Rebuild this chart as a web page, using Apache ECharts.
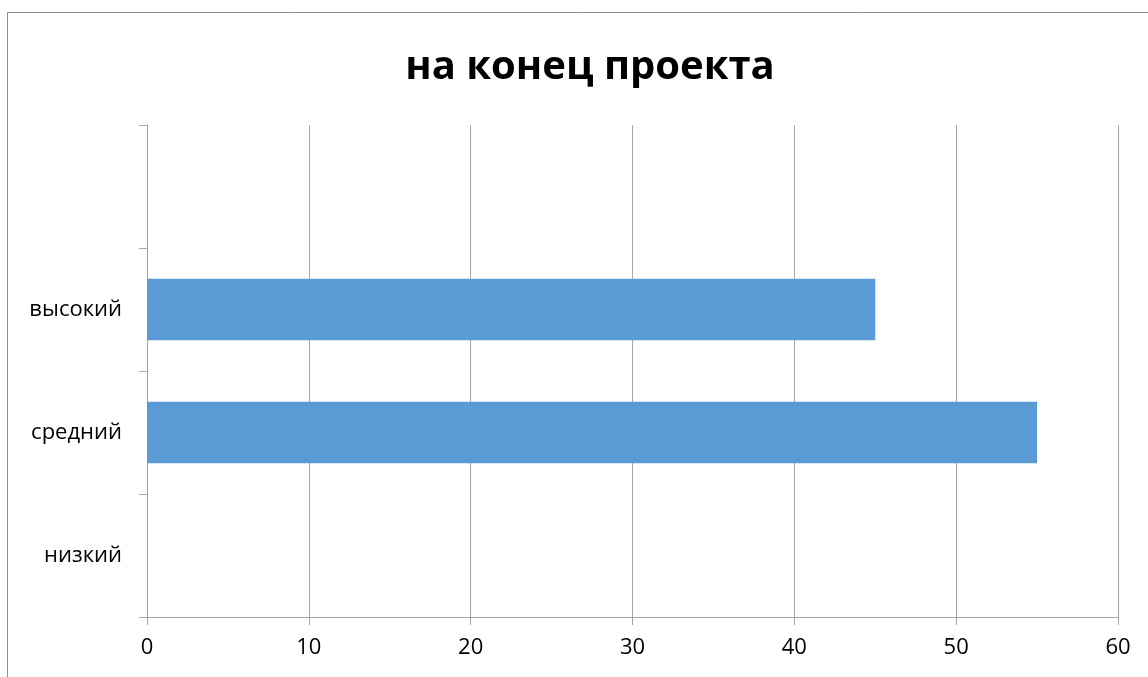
<!DOCTYPE html>
<html><head><meta charset="utf-8">
<script src="https://cdn.jsdelivr.net/npm/echarts@6/dist/echarts.min.js"></script>
<style>html,body{margin:0;padding:0;background:#fff}#c{width:1148px;height:677px}</style>
</head><body><div id="c"></div>
<script>
const titleText = "на конец проекта";
const categories = ["низкий", "средний", "высокий", ""];
const values = [0, 55, 45, null];
const xTicks = [0, 10, 20, 30, 40, 50, 60];

const chart = echarts.init(document.getElementById('c'), null, {renderer: 'canvas'});
const font = "'Open Sans', 'Noto Sans', sans-serif";
chart.setOption({
  animation: false,
  backgroundColor: '#fff',
  graphic: [{
    type: 'rect', shape: {x: 7.5, y: 12.5, width: 1200, height: 800},
    style: {fill: 'none', stroke: '#8c8c8c', lineWidth: 1}, silent: true
  }],
  title: {
    text: titleText, left: 585, textAlign: 'center', top: 43,
    textStyle: {fontFamily: font, fontWeight: 'bold', fontSize: 40, color: '#000'}
  },
  grid: {left: 147, right: 30, top: 125, bottom: 60, containLabel: false},
  xAxis: {
    type: 'value', min: xTicks[0], max: xTicks[xTicks.length - 1], interval: 10,
    axisLine: {show: true, lineStyle: {color: '#a6a6a6', width: 1}},
    axisTick: {show: true, length: 8, lineStyle: {color: '#a6a6a6'}},
    splitLine: {show: true, lineStyle: {color: '#a6a6a6', width: 1}},
    axisLabel: {fontFamily: font, fontSize: 22, color: '#000', margin: 20}
  },
  yAxis: {
    type: 'category', data: categories,
    axisLine: {show: true, lineStyle: {color: '#a6a6a6', width: 1}},
    axisTick: {show: true, length: 8, lineStyle: {color: '#a6a6a6'}},
    axisLabel: {fontFamily: font, fontSize: 22, color: '#000', margin: 25}
  },
  series: [{
    type: 'bar', data: values, barWidth: '50%',
    itemStyle: {color: '#5b9bd5'}
  }]
});
</script></body></html>
